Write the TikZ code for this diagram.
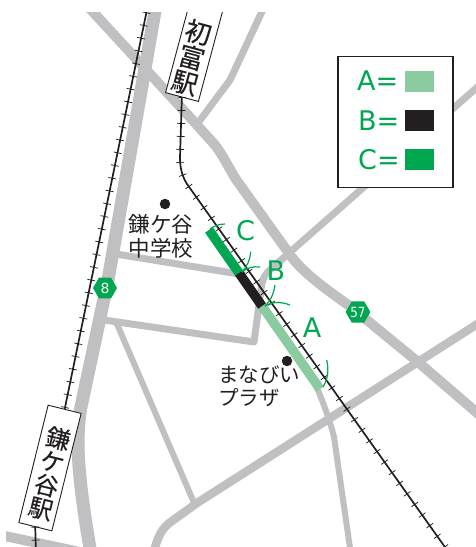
\documentclass[tikz,border=0pt]{standalone}
\usepackage{fontspec}
\setmainfont{DejaVu Sans}
\newfontfamily\jp{Noto Sans CJK JP}
\newfontfamily\jpheavy[FakeBold=0.25]{Noto Sans CJK JP}
\usetikzlibrary{shapes.geometric,decorations.pathreplacing}
\definecolor{roadgrey}{HTML}{C0C0C2}
\definecolor{inkblack}{HTML}{231F20}
\definecolor{mapgreen}{HTML}{00A650}
\definecolor{palegreen}{HTML}{8ACBA0}
\tikzset{
  road/.style={draw=roadgrey,line join=round},
  railline/.style={draw=inkblack,line width=1.7pt},
  railties/.style={draw=inkblack,line width=0.75pt,decorate,decoration={ticks,segment length=13pt,amplitude=4pt}},
  stationbox/.style={draw=inkblack,fill=white,line width=0.9pt,inner sep=0pt,minimum width=34pt},
  stationtext/.style={text=inkblack,align=center,inner sep=0pt},
  landmark/.style={text=inkblack,inner sep=0pt},
  spot/.style={circle,fill=inkblack,inner sep=0pt,minimum size=10.5pt},
  shield/.style={regular polygon,regular polygon sides=6,fill=mapgreen,text=white,inner sep=0pt,minimum size=24pt,outer sep=0pt},
  strip/.style={line width=9.5pt},
  tickarc/.style={draw=mapgreen,line width=1.2pt},
  bigletter/.style={font=\fontsize{27}{27}\selectfont,text=mapgreen,inner sep=0pt},
  swatch/.style={inner sep=0pt,minimum width=29pt,minimum height=21pt},
}
\begin{document}
\begin{tikzpicture}[x=1pt,y=-1pt]
\useasboundingbox (0,0) rectangle (476,547);
\begin{scope}
\clip (6,12) rectangle (476,547);
% roads
\draw[road,line width=13pt] (157,0) -- (108,280) -- (81,407) .. controls (75,440) and (78,480) .. (92,560);
\draw[road,line width=10pt] (82,0) -- (197,125) -- (215,145) .. controls (225,158) and (232,175) .. (240,185) -- (288,252) .. controls (300,270) and (320,285) .. (351,307) -- (418,362) -- (490,424);
\draw[road,line width=7pt] (265,5) -- (238,63) -- (230,80) -- (198,123);
\draw[road,line width=7pt] (104,320) -- (254,342) -- (261,290) .. controls (262,278) and (266,273) .. (272,268) -- (490,76);
\draw[road,line width=7pt] (116,254) -- (245,275);
\draw[road,line width=6pt] (117,324) -- (195,505);
\draw[road,line width=8.5pt] (490,316) -- (197,503) -- (172,521) .. controls (162,528) and (158,535) .. (153,555);
\draw[road,line width=6pt] (316,385) .. controls (322,400) and (330,420) .. (334,437) -- (351,555);
\draw[road,line width=10pt] (0,535) -- (80,552);
% rails and stations
\node[stationbox,rotate=-15,minimum height=116pt] (hatsu) at (197,41) {};
\node[stationbox,rotate=-14,minimum height=121pt] (kama) at (50,468) {};
\coordinate (railtop) at (149,0);
\coordinate (railbottom) at (36,556);
\coordinate (bend) at (187,184);
\coordinate (railend) at (452,557);
\draw[railline] (railtop) -- (kama.north);
\draw[railties] (railtop) -- (kama.north);
\draw[railline] (kama.south) -- (railbottom);
\draw[railties] (kama.south) -- (railbottom);
\draw[railline] (hatsu.south) -- (180,157) .. controls (180,168) and (182,176) .. (bend) -- (railend);
\draw[railties] (hatsu.south) -- (180,157) .. controls (180,168) and (182,176) .. (bend) -- (railend);
\node[stationtext,rotate=-15,font=\jpheavy\fontsize{26}{26}\selectfont] (hatsutext) at (191.5,57.5) {初\\富\\駅};
\node[stationtext,rotate=-14,font=\jpheavy\fontsize{24}{24}\selectfont] (kamatext) at (49.5,473.5) {鎌\\ケ\\谷\\駅};
% sections
\coordinate (s0) at (209,230);
\coordinate (s1) at (239,273);
\coordinate (s2) at (262,306);
\coordinate (s3) at (320,389);
\draw[strip,draw=palegreen] (s2) -- (s3);
\draw[strip,draw=mapgreen] (s0) -- (s1);
\draw[strip,draw=inkblack] (s1) -- (s2);
% callout arcs
\draw[tickarc] (210,229) .. controls (214,226) and (219,224) .. (225,224);
\draw[tickarc] (250.7,251.7) .. controls (250,260) and (247,267) .. (241.7,272);
\draw[tickarc] (260,267) .. controls (253,266) and (247,268) .. (241.7,272);
\draw[tickarc] (275,285) .. controls (274,293) and (271,300) .. (265,306);
\draw[tickarc] (290,305) .. controls (282,302) and (273,301) .. (265,306);
\draw[tickarc] (326.7,360) .. controls (329,370) and (328,379) .. (323,387);
\node[bigletter] (labelC) at (245.5,231) {C};
\node[bigletter] (labelB) at (276,270.5) {B};
\node[bigletter] (labelA) at (312,328) {A};
% landmarks
\node[spot] (dotschool) at (165,204) {};
\node[landmark,align=center,font=\jp\fontsize{21.5}{24}\selectfont] (school) at (161,236) {鎌ケ谷\\中学校};
\node[spot] (dotplaza) at (287,361) {};
\node[landmark,align=left,font=\jp\fontsize{20.5}{23.5}\selectfont] (plaza) at (259,386.5) {まなびい\\プラザ};
% shields
\node[shield,font=\fontsize{14}{14}\selectfont] (r8) at (105,288) {8};
\node[shield,font=\fontsize{14}{14}\selectfont] (r57) at (358,312) {\scalebox{0.85}[1]{57}};
% legend
\node[draw=inkblack,fill=white,line width=1.6pt,inner sep=0pt,minimum width=115pt,minimum height=131pt] (legend) at (395.5,122) {};
\node[bigletter,anchor=west] (keyA) at (357,81) {A=};
\node[bigletter,anchor=west] (keyB) at (358,120.5) {B=};
\node[bigletter,anchor=west] (keyC) at (358,159.5) {C=};
\node[swatch,fill=palegreen] (swA) at (419.5,81.5) {};
\node[swatch,fill=inkblack] (swB) at (419.5,120.5) {};
\node[swatch,fill=mapgreen] (swC) at (419.5,159.5) {};
\end{scope}
\end{tikzpicture}
\end{document}
